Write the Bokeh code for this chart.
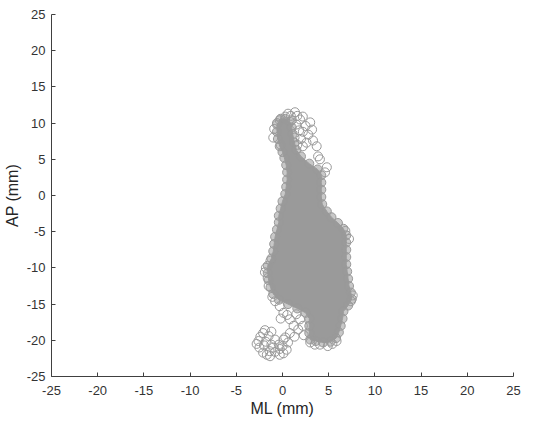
from bokeh.plotting import figure
from bokeh.models import Range1d, FixedTicker
from bokeh.embed import file_html
from bokeh.resources import INLINE

# Outline of the dense centre of the cloud (circle centres along its edge), mm
edge_ml = [-0.2, 0.3, 0.8, 1.0, 1.1, 1.3, 1.5, 2.0, 2.9, 3.8, 4.2, 4.2, 4.2, 4.2, 4.3, 4.8, 5.3,
           6.0, 6.6, 6.9, 6.9, 6.9, 6.9, 6.9, 7.0, 7.1, 7.2, 7.4, 7.5, 7.1, 6.6, 6.5, 6.3,
           6.1, 5.8, 5.2, 4.4, 3.6, 3.0, 2.9, 2.9, 2.9, 2.5, 1.6, 0.6, -0.4, -1.0, -1.3,
           -1.5, -1.6, -1.6, -1.2, -1.0, -0.9, -0.8, -0.6, -0.4, -0.4, -0.2, 0.0, 0.3, 0.4,
           0.5, 0.5, 0.4, 0.2, 0.0, -0.3, -0.5, -0.6, -0.6]
edge_ap = [10.6, 10.6, 10.2, 9.4, 8.5, 7.3, 6.3, 5.4, 4.4, 3.6, 2.8, 1.8, 0.8, -0.2, -1.2, -2.2,
           -3.0, -3.8, -4.6, -5.5, -6.5, -7.5, -8.5, -9.5, -10.5, -11.5, -12.5, -13.4, -14.3,
           -15.2, -16.0, -17.0, -18.0, -18.9, -19.7, -20.2, -20.3, -20.1, -19.9, -19.0,
           -18.0, -17.0, -16.2, -15.6, -15.0, -14.4, -13.6, -12.7, -11.7, -10.7, -9.7,
           -8.7, -7.7, -6.7, -5.7, -4.7, -3.7, -2.8, -1.8, -0.8, 0.2, 1.2, 2.2, 3.2, 4.2,
           5.2, 6.0, 6.8, 7.8, 8.8, 9.8]

# Separate circles outside the dense centre, mm
ml = [1.35, 2.2, 1.9, 3.0, 3.2, 2.8, 1.6, 0.9, 2.5, 2.2, 2.0, 1.8,
      -0.6, 0.3, 0.6, 1.0, 1.5, 1.3, 1.6, 2.6, 3.3,
      3.7, 3.85, 4.05, 4.8, 2.2, 4.6,
      -1.0, -0.9, -0.3, -0.2,
      -2.1, -2.6, -2.1, -1.35, -0.3, 0.45, 0.6, -0.8, -1.5, -1.2, -2.4, -1.7, -0.8, 0.1,
      -2.5, -0.4, 0.3,
      -1.8, -1.0, -0.3, -2.0, -1.4, 0.0, -2.8, -1.9, -1.2,
      0.1, 0.8, 1.2, 0.8, 0.1, -0.3, -0.8, 1.7, 1.9, 1.5, 2.2, 2.3, 1.3, -0.2, 0.5,
      3.0, 4.05, 4.9, 5.85, 3.5, 5.4,
      7.4, 7.6, 6.8, 7.2,
      -1.8, -1.9, -1.6, -1.3, -1.5, -1.1]
ap = [11.5, 10.9, 10.5, 10.1, 9.1, 8.4, 11.0, 11.0, 9.6, 8.8, 7.8, 9.0,
      10.0, 10.9, 11.3, 10.4, 9.8, 8.0, 7.0, 7.3, 7.6,
      6.8, 5.4, 5.0, 3.9, 6.8, 3.2,
      8.0, 9.2, 10.4, 7.0,
      -19.0, -20.1, -21.7, -22.2, -22.0, -21.3, -20.3, -19.9, -19.4, -20.6, -19.5, -22.0,
      -21.6, -21.8, -21.0, -20.6, -19.6,
      -20.2, -21.0, -21.2, -20.7, -21.5, -20.8, -20.5, -18.6, -18.8,
      -19.9, -19.0, -18.0, -17.1, -16.2, -15.3, -14.6, -18.5, -17.1, -16.4, -18.0, -19.3,
      -19.5, -17.0, -16.5,
      -20.3, -20.6, -20.8, -20.1, -20.6, -20.5,
      -14.6, -13.8, -4.9, -6.0,
      -10.0, -10.6, -11.4, -9.0, -12.5, -14.0]

ticks = [-25, -20, -15, -10, -5, 0, 5, 10, 15, 20, 25]
tick_text = ["-25", "-20", "-15", "-10", "-5", "0", "5", "10", "15", "20", "25"]

p = figure(frame_width=462, frame_height=362, output_backend="svg",
           toolbar_location=None,
           x_range=Range1d(-25, 25), y_range=Range1d(-25, 25),
           min_border_left=49, min_border_right=9, min_border_top=14,
           min_border_bottom=40)
p.outline_line_color = None
p.grid.visible = False
p.background_fill_color = "white"

gray = "#9a9a9a"
p.patch(edge_ml, edge_ap, fill_color=gray, line_color=gray, line_width=1)
p.scatter(edge_ml, edge_ap, marker="circle", size=9, fill_color=gray,
          fill_alpha=0.55, line_color="#999999", line_width=1)
p.scatter(ml, ap, marker="circle", size=9, fill_color=None,
          line_color="#999999", line_width=1)

for ax in (p.xaxis[0], p.yaxis[0]):
    ax.ticker = FixedTicker(ticks=ticks)
    ax.major_label_overrides = {t: s for t, s in zip(ticks, tick_text)}
    ax.major_tick_in = 4
    ax.major_tick_out = 0
    ax.minor_tick_line_color = None
    ax.axis_line_color = "#404040"
    ax.major_tick_line_color = "#404040"
    ax.major_label_text_font = "Liberation Sans"
    ax.major_label_text_font_size = "13px"
    ax.major_label_text_color = "#333333"
    ax.axis_label_text_font = "Liberation Sans"
    ax.axis_label_text_font_size = "16px"
    ax.axis_label_text_font_style = "normal"
    ax.axis_label_text_color = "#262626"

p.xaxis.axis_label = "ML (mm)"
p.yaxis.axis_label = "AP (mm)"
p.xaxis.major_label_standoff = 9
p.xaxis.axis_label_standoff = 2
p.yaxis.major_label_standoff = 6
p.yaxis.axis_label_standoff = 3

open("out.html", "w").write(file_html(p, INLINE))
